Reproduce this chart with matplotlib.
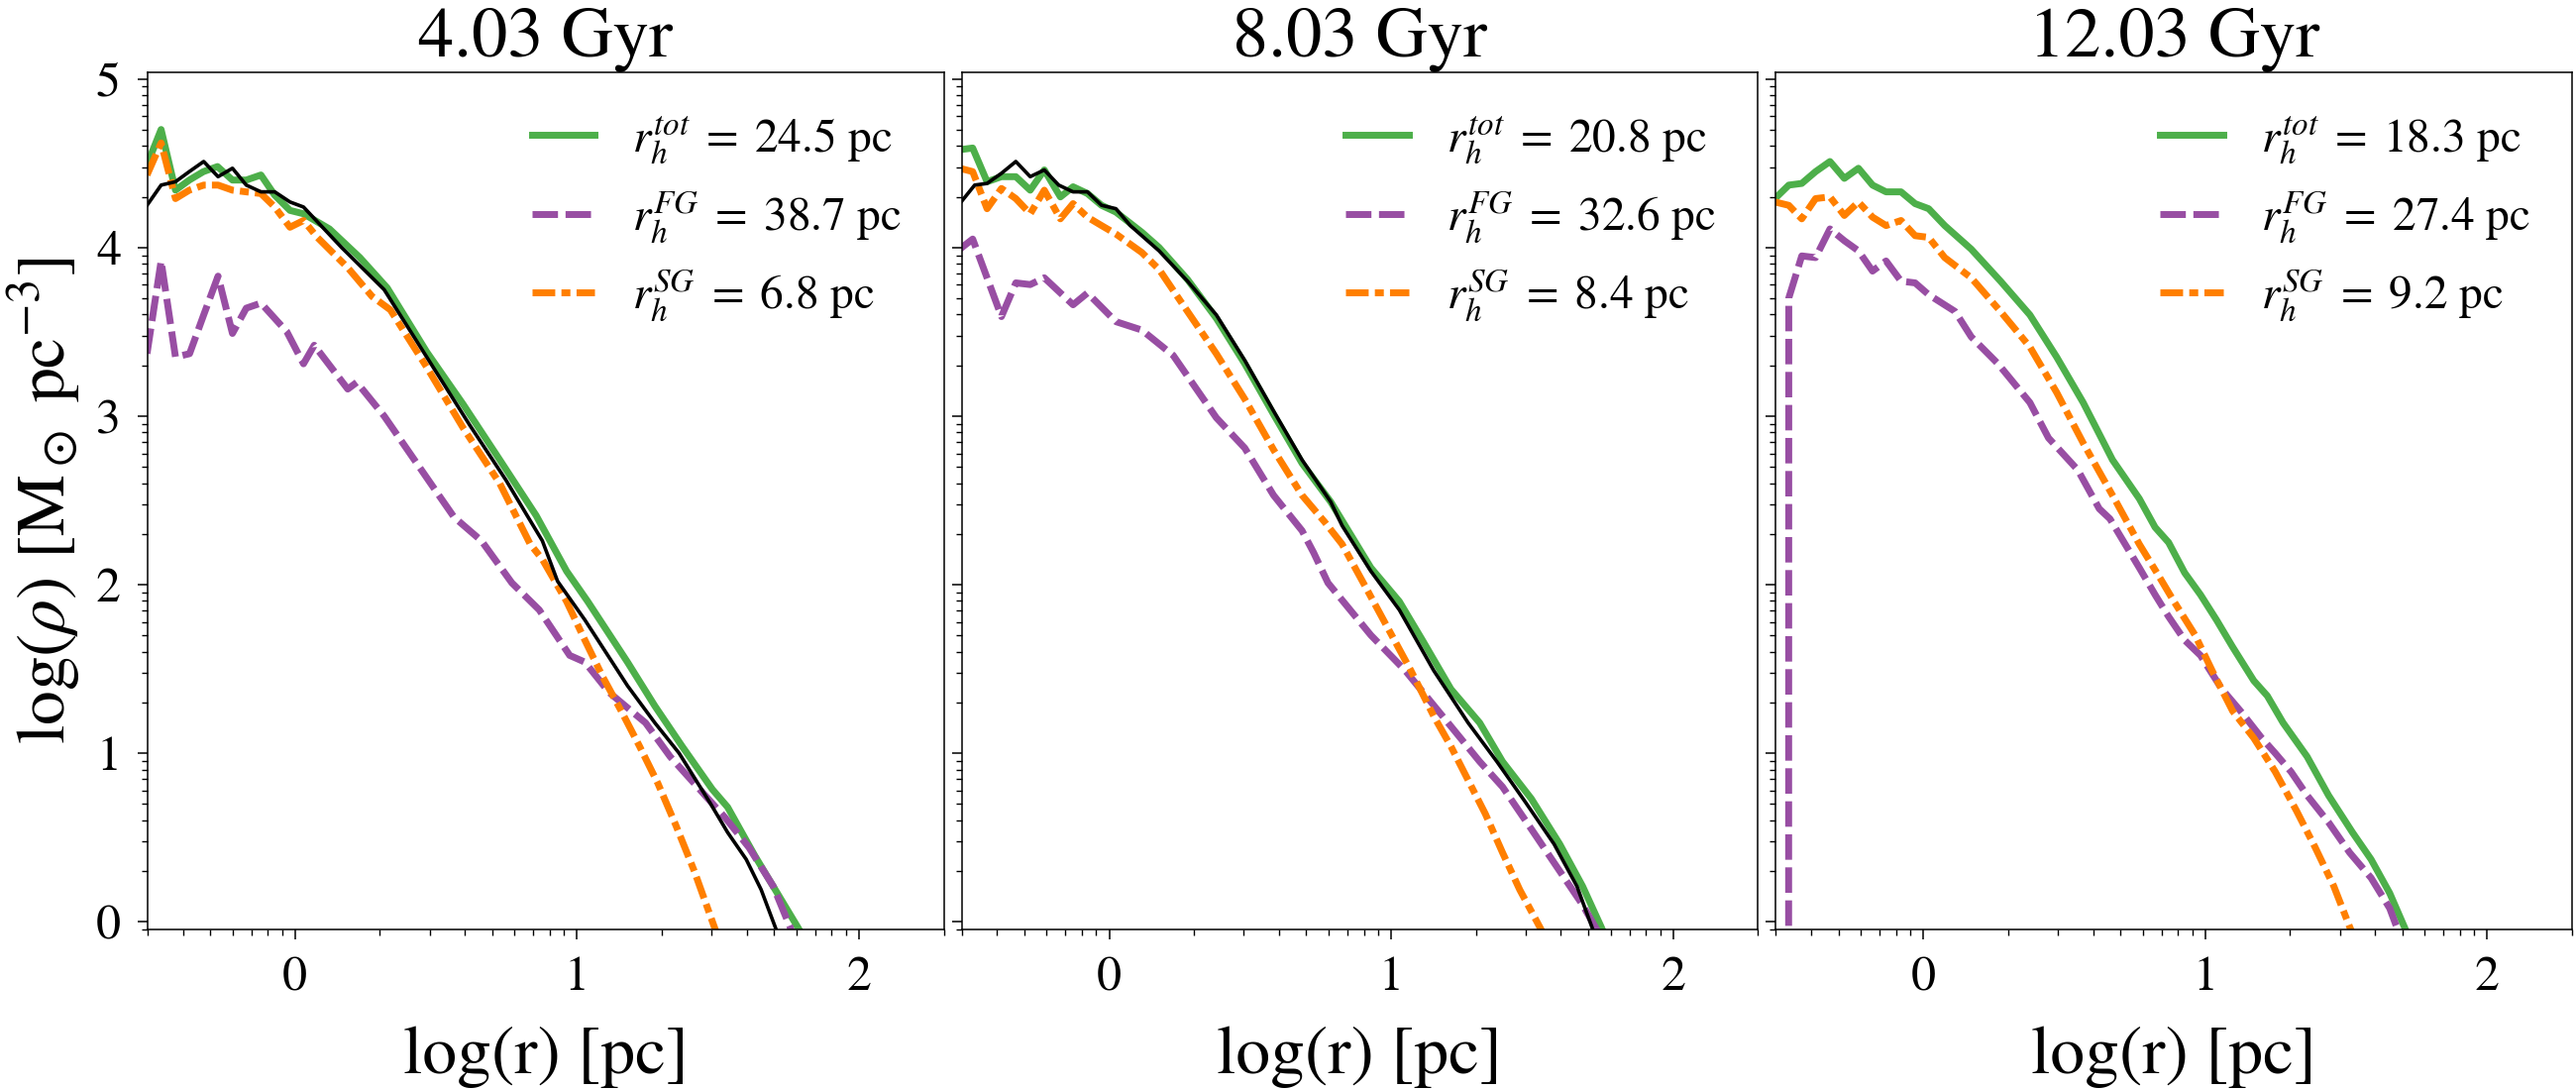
import numpy as np
import matplotlib
matplotlib.use("Agg")
import matplotlib.pyplot as plt
from matplotlib.ticker import FixedLocator, LogLocator, FuncFormatter, NullFormatter

plt.rcParams['font.family'] = 'STIXGeneral'
plt.rcParams['mathtext.fontset'] = 'stix'

# panel titles and half-mass radii
titles = ["4.03 Gyr", "8.03 Gyr", "12.03 Gyr"]
rh_tot = [24.5, 20.8, 18.3]
rh_fg = [38.7, 32.6, 27.4]
rh_sg = [6.8, 8.4, 9.2]

# ---- 4.03 Gyr (log r, log rho) ----
p1_tot_lr = [-0.525, -0.475, -0.424, -0.375, -0.325, -0.275, -0.222, -0.173, -0.121, -0.072,
             -0.018, 0.03, 0.122, 0.23, 0.327, 0.467, 0.596, 0.726, 0.855, 0.963,
             1.038, 1.179, 1.276, 1.373, 1.48, 1.534, 1.631, 1.728, 1.85]
p1_tot_ly = [4.49, 4.70, 4.34, 4.40, 4.45, 4.48, 4.40, 4.40, 4.43, 4.31,
             4.22, 4.20, 4.11, 3.94, 3.76, 3.38, 3.07, 2.74, 2.41, 2.08,
             1.90, 1.54, 1.28, 1.04, 0.785, 0.68, 0.39, 0.12, -0.22]
p1_fg_lr = [-0.525, -0.475, -0.424, -0.374, -0.324, -0.273, -0.222, -0.173, -0.121, -0.029,
            0.03, 0.068, 0.187, 0.219, 0.316, 0.51, 0.564, 0.661, 0.769, 0.866,
            0.974, 1.028, 1.114, 1.157, 1.243, 1.33, 1.416, 1.524, 1.61, 1.696,
            1.76, 1.85]
p1_fg_ly = [3.37, 3.92, 3.35, 3.37, 3.60, 3.83, 3.49, 3.64, 3.67, 3.50,
            3.31, 3.42, 3.16, 3.20, 3.00, 2.53, 2.40, 2.26, 2.01, 1.85,
            1.58, 1.54, 1.36, 1.30, 1.18, 0.98, 0.82, 0.62, 0.44, 0.21,
            -0.05, -0.35]
p1_sg_lr = [-0.525, -0.475, -0.424, -0.375, -0.324, -0.273, -0.222, -0.173, -0.121, -0.072,
            -0.018, 0.03, 0.079, 0.187, 0.273, 0.338, 0.467, 0.596, 0.726, 0.834,
            0.877, 0.963, 1.028, 1.092, 1.157, 1.222, 1.287, 1.351, 1.416, 1.491,
            1.55]
p1_sg_ly = [4.43, 4.62, 4.29, 4.34, 4.37, 4.37, 4.34, 4.33, 4.32, 4.24,
            4.12, 4.16, 4.06, 3.88, 3.71, 3.63, 3.29, 2.93, 2.60, 2.24,
            2.15, 1.90, 1.67, 1.45, 1.25, 1.04, 0.82, 0.57, 0.30, -0.05,
            -0.3]
p1_ref_lr = [-0.525, -0.475, -0.424, -0.375, -0.324, -0.273, -0.222, -0.173, -0.121, -0.072,
             -0.018, 0.03, 0.165, 0.316, 0.467, 0.618, 0.748, 0.823, 0.877, 0.931,
             1.028, 1.179, 1.276, 1.362, 1.47, 1.534, 1.6, 1.653, 1.707, 1.8]
p1_ref_ly = [4.25, 4.37, 4.39, 4.45, 4.51, 4.42, 4.47, 4.37, 4.33, 4.33,
             4.27, 4.24, 4.00, 3.75, 3.35, 2.95, 2.62, 2.41, 2.26, 2.02,
             1.79, 1.40, 1.18, 1.00, 0.71, 0.53, 0.37, 0.19, -0.05, -0.4]

# ---- 8.03 Gyr ----
p2_tot_lr = [-0.53, -0.484, -0.433, -0.382, -0.331, -0.28, -0.23, -0.173, -0.128, -0.077,
             -0.027, 0.024, 0.116, 0.177, 0.278, 0.38, 0.481, 0.583, 0.684, 0.786,
             0.928, 1.029, 1.111, 1.212, 1.314, 1.395, 1.497, 1.598, 1.679, 1.75,
             1.85]
p2_tot_ly = [4.58, 4.59, 4.39, 4.42, 4.42, 4.34, 4.46, 4.30, 4.36, 4.32,
             4.25, 4.21, 4.09, 4.00, 3.81, 3.58, 3.31, 3.01, 2.72, 2.49,
             2.10, 1.90, 1.67, 1.38, 1.18, 0.95, 0.73, 0.46, 0.21, -0.05,
             -0.35]
p2_fg_lr = [-0.53, -0.484, -0.382, -0.331, -0.28, -0.23, -0.128, -0.077, 0.024, 0.116,
            0.227, 0.38, 0.481, 0.583, 0.684, 0.725, 0.776, 0.928, 1.05, 1.192,
            1.314, 1.395, 1.497, 1.598, 1.679, 1.73, 1.82]
p2_fg_ly = [3.99, 4.05, 3.59, 3.79, 3.78, 3.82, 3.66, 3.73, 3.56, 3.51,
            3.36, 2.99, 2.81, 2.53, 2.32, 2.19, 2.01, 1.70, 1.49, 1.20,
            0.95, 0.80, 0.55, 0.30, 0.10, -0.05, -0.4]
p2_sg_lr = [-0.53, -0.484, -0.433, -0.382, -0.331, -0.28, -0.23, -0.173, -0.128, -0.077,
            -0.027, 0.024, 0.116, 0.177, 0.278, 0.38, 0.481, 0.583, 0.684, 0.765,
            0.826, 0.908, 0.989, 1.07, 1.151, 1.212, 1.273, 1.334, 1.395, 1.456,
            1.533, 1.6]
p2_sg_ly = [4.47, 4.45, 4.23, 4.35, 4.29, 4.20, 4.34, 4.17, 4.26, 4.18,
            4.13, 4.08, 3.97, 3.87, 3.62, 3.37, 3.10, 2.80, 2.53, 2.37,
            2.24, 1.99, 1.74, 1.49, 1.22, 1.04, 0.84, 0.64, 0.41, 0.19,
            -0.05, -0.3]
p2_ref_lr = [-0.53, -0.477, -0.433, -0.382, -0.331, -0.28, -0.23, -0.179, -0.128, -0.077,
             -0.027, 0.024, 0.075, 0.177, 0.278, 0.38, 0.481, 0.583, 0.684, 0.786,
             0.826, 0.928, 1.029, 1.151, 1.273, 1.375, 1.476, 1.578, 1.659, 1.716,
             1.8]
p2_ref_ly = [4.26, 4.37, 4.38, 4.44, 4.51, 4.42, 4.46, 4.37, 4.33, 4.33,
             4.25, 4.23, 4.13, 3.98, 3.80, 3.60, 3.33, 3.03, 2.74, 2.49,
             2.35, 2.08, 1.85, 1.49, 1.18, 0.95, 0.71, 0.46, 0.21, -0.05,
             -0.4]

# ---- 12.03 Gyr ----
p3_tot_lr = [-0.526, -0.477, -0.431, -0.382, -0.331, -0.28, -0.23, -0.18, -0.132, -0.079,
             -0.029, 0.019, 0.076, 0.17, 0.274, 0.378, 0.473, 0.567, 0.671, 0.766,
             0.822, 0.87, 0.927, 0.983, 1.04, 1.097, 1.172, 1.22, 1.276, 1.361,
             1.437, 1.522, 1.588, 1.654, 1.711, 1.8]
p3_tot_ly = [4.29, 4.37, 4.38, 4.45, 4.51, 4.41, 4.47, 4.37, 4.33, 4.33,
             4.26, 4.23, 4.13, 3.99, 3.80, 3.60, 3.35, 3.08, 2.74, 2.51,
             2.34, 2.25, 2.07, 1.94, 1.79, 1.63, 1.43, 1.34, 1.18, 0.98,
             0.75, 0.53, 0.37, 0.17, -0.05, -0.32]
p3_fg_lr = [-0.478, -0.477, -0.431, -0.382, -0.331, -0.28, -0.23, -0.18, -0.132, -0.079,
            -0.029, 0.019, 0.113, 0.17, 0.265, 0.378, 0.444, 0.548, 0.624, 0.662,
            0.766, 0.822, 0.87, 0.927, 0.983, 1.059, 1.125, 1.2, 1.248, 1.304,
            1.361, 1.437, 1.512, 1.588, 1.654, 1.683, 1.78]
p3_fg_ly = [-3.0, 3.70, 3.95, 3.94, 4.11, 4.04, 3.98, 3.86, 3.92, 3.80,
            3.79, 3.72, 3.62, 3.47, 3.31, 3.08, 2.87, 2.68, 2.45, 2.39,
            2.10, 1.94, 1.81, 1.67, 1.58, 1.38, 1.25, 1.09, 1.00, 0.89,
            0.75, 0.59, 0.41, 0.26, 0.08, -0.05, -0.4]
p3_sg_lr = [-0.526, -0.477, -0.431, -0.382, -0.331, -0.28, -0.23, -0.18, -0.132, -0.079,
            -0.029, 0.019, 0.076, 0.17, 0.274, 0.378, 0.473, 0.567, 0.681, 0.766,
            0.832, 0.889, 0.964, 1.03, 1.097, 1.172, 1.248, 1.323, 1.39, 1.456,
            1.512, 1.58]
p3_sg_ly = [4.27, 4.25, 4.17, 4.29, 4.30, 4.19, 4.27, 4.18, 4.13, 4.16,
            4.07, 4.06, 3.94, 3.82, 3.62, 3.41, 3.14, 2.84, 2.50, 2.24,
            2.06, 1.90, 1.70, 1.47, 1.25, 1.09, 0.89, 0.66, 0.44, 0.21,
            -0.03, -0.3]

panels = [
    (p1_tot_lr, p1_tot_ly, p1_fg_lr, p1_fg_ly, p1_sg_lr, p1_sg_ly, p1_ref_lr, p1_ref_ly),
    (p2_tot_lr, p2_tot_ly, p2_fg_lr, p2_fg_ly, p2_sg_lr, p2_sg_ly, p2_ref_lr, p2_ref_ly),
    (p3_tot_lr, p3_tot_ly, p3_fg_lr, p3_fg_ly, p3_sg_lr, p3_sg_ly, None, None),
]

c_tot = "#4daf4a"
c_fg = "#984ea3"
c_sg = "#ff7f00"
lw = 5.0

fig, axes = plt.subplots(1, 3, figsize=(26, 11), dpi=100, sharey=True)
fig.subplots_adjust(left=0.0573, right=0.9985, bottom=0.1473, top=0.934, wspace=0.0224)

logfmt = FuncFormatter(lambda v, pos: "%d" % round(np.log10(v)))

for i, ax in enumerate(axes):
    tl, ty, fl, fy, sl, sy, bl, by = panels[i]
    ax.plot(10**np.array(tl), 10**np.array(ty), color=c_tot, lw=lw, ls="-",
            label=r"$r_h^{tot}\;=\;%.1f$ pc" % rh_tot[i])
    ax.plot(10**np.array(fl), 10**np.array(fy), color=c_fg, lw=lw, ls=(0, (3.7, 1.1)),
            label=r"$r_h^{FG}\;=\;%.1f$ pc" % rh_fg[i])
    ax.plot(10**np.array(sl), 10**np.array(sy), color=c_sg, lw=lw, ls=(0, (3.3, 0.9, 1.3, 0.9)),
            label=r"$r_h^{SG}\;=\;%.1f$ pc" % rh_sg[i])
    if bl is not None:
        ax.plot(10**np.array(bl), 10**np.array(by), color="k", lw=2.6)

    ax.set_xscale("log")
    ax.set_yscale("log")
    ax.set_xlim(0.3, 200)
    ax.set_ylim(0.9, 1.1e5)
    ax.xaxis.set_major_locator(FixedLocator([1, 10, 100]))
    ax.xaxis.set_minor_locator(LogLocator(base=10, subs=np.arange(2, 10)))
    ax.yaxis.set_major_locator(FixedLocator([1, 10, 100, 1e3, 1e4, 1e5]))
    ax.yaxis.set_minor_locator(LogLocator(base=10, subs=np.arange(2, 10)))
    ax.xaxis.set_major_formatter(logfmt)
    ax.yaxis.set_major_formatter(logfmt)
    ax.xaxis.set_minor_formatter(NullFormatter())
    ax.yaxis.set_minor_formatter(NullFormatter())
    ax.tick_params(which="major", direction="out", length=7.5, width=1.1, labelsize=36, pad=12)
    ax.tick_params(which="minor", direction="out", length=4.5, width=1.0)
    for s in ax.spines.values():
        s.set_linewidth(1.1)

    ax.set_title(titles[i], fontsize=52, pad=2)
    ax.set_xlabel("log(r) [pc]", fontsize=50, labelpad=18)
    ax.legend(loc="upper right", frameon=False, fontsize=34, handlelength=1.35,
              handletextpad=0.8, labelspacing=0.5, borderaxespad=0.5)

axes[0].set_ylabel(r"log($\rho$) [M$_\odot$ pc$^{-3}$]", fontsize=50, labelpad=10)

fig.savefig("out.png", dpi=100)
